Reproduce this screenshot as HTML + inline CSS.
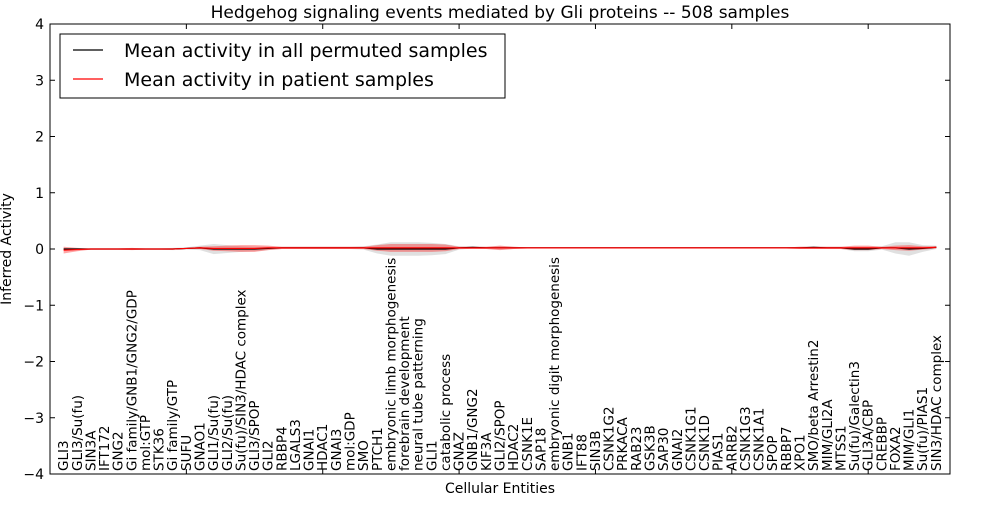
<!DOCTYPE html>
<html><head><meta charset="utf-8"><style>
body{margin:0;background:#fff;}
svg{font-family:"DejaVu Sans","Liberation Sans",sans-serif;}
</style></head><body>
<svg id="chart" width="1000" height="500" viewBox="0 0 1000 500">
<rect width="1000" height="500" fill="#fff"/>
<text x="500" y="18" text-anchor="middle" font-size="17">Hedgehog signaling events mediated by Gli proteins -- 508 samples</text>
<g id="bands"></g>
<g id="lines"></g>
<rect x="50" y="24" width="900" height="450" fill="none" stroke="#000" stroke-width="1"/>
<g id="yticks"></g>
<g id="xticks"></g>
<g id="xlabels"></g>
<text x="500" y="493" text-anchor="middle" font-size="14">Cellular Entities</text>
<text transform="translate(11,249) rotate(-90)" text-anchor="middle" font-size="14">Inferred Activity</text>
<g>
<rect x="60" y="34" width="445" height="64" fill="#fff" stroke="#000" stroke-width="1"/>
<line x1="73" y1="50" x2="103" y2="50" stroke="#000" stroke-width="1.2"/>
<text x="124" y="57" font-size="19">Mean activity in all permuted samples</text>
<line x1="73" y1="79" x2="103" y2="79" stroke="#f00" stroke-width="1.2"/>
<text x="124" y="86" font-size="19">Mean activity in patient samples</text>
</g>
</svg>
<script>
const categories = ["GLI3","GLI3/Su(fu)","SIN3A","IFT172","GNG2","Gi family/GNB1/GNG2/GDP","mol:GTP","STK36","Gi family/GTP","SUFU","GNAO1","GLI1/Su(fu)","GLI2/Su(fu)","Su(fu)/SIN3/HDAC complex","GLI3/SPOP","GLI2","RBBP4","LGALS3","GNAI1","HDAC1","GNAI3","mol:GDP","SMO","PTCH1","embryonic limb morphogenesis","forebrain development","neural tube patterning","GLI1","catabolic process","GNAZ","GNB1/GNG2","KIF3A","GLI2/SPOP","HDAC2","CSNK1E","SAP18","embryonic digit morphogenesis","GNB1","IFT88","SIN3B","CSNK1G2","PRKACA","RAB23","GSK3B","SAP30","GNAI2","CSNK1G1","CSNK1D","PIAS1","ARRB2","CSNK1G3","CSNK1A1","SPOP","RBBP7","XPO1","SMO/beta Arrestin2","MIM/GLI2A","MTSS1","Su(fu)/Galectin3","GLI3A/CBP","CREBBP","FOXA2","MIM/GLI1","Su(fu)/PIAS1","SIN3/HDAC complex"];
const permutedMean = [0,0,0,0,0,0,0,0,0,0.01,0.02,0,0,0,0,0.01,0.02,0.02,0.02,0.02,0.02,0.02,0.02,0,0,0,0,0,0,0.02,0.03,0.02,0.02,0.02,0.02,0.02,0.02,0.02,0.02,0.02,0.02,0.02,0.02,0.02,0.02,0.02,0.02,0.02,0.02,0.02,0.02,0.02,0.02,0.02,0.02,0.03,0.02,0.02,0,0,0.02,0.02,0,0.01,0.03];
const patientMean = [-0.02,-0.01,0,0,0,0,0,0,0,0.01,0.02,0.01,0.01,0.01,0.01,0.02,0.02,0.02,0.02,0.02,0.02,0.02,0.02,0.02,0.02,0.02,0.02,0.02,0.02,0.02,0.02,0.02,0.02,0.02,0.02,0.02,0.02,0.02,0.02,0.02,0.02,0.02,0.02,0.02,0.02,0.02,0.02,0.02,0.02,0.02,0.02,0.02,0.02,0.02,0.02,0.02,0.02,0.02,0.02,0.02,0.02,0.02,0.02,0.02,0.03];
const patientSpread = [0.06,0.03,0.01,0.01,0.01,0.02,0.01,0.01,0.01,0.01,0.02,0.04,0.05,0.06,0.06,0.04,0.02,0.02,0.02,0.02,0.02,0.02,0.02,0.05,0.07,0.07,0.07,0.07,0.06,0.02,0.02,0.02,0.04,0.02,0.01,0.01,0.01,0.01,0.01,0.01,0.01,0.01,0.01,0.01,0.01,0.01,0.01,0.01,0.01,0.01,0.01,0.01,0.01,0.01,0.02,0.02,0.02,0.02,0.04,0.04,0.02,0.04,0.05,0.03,0.02];
const permutedSpread = [0.01,0.01,0.01,0.01,0.01,0.01,0.01,0.01,0.02,0.02,0.04,0.09,0.07,0.05,0.04,0.03,0.02,0.02,0.02,0.02,0.02,0.02,0.03,0.08,0.12,0.12,0.12,0.11,0.09,0.03,0.02,0.02,0.03,0.02,0.01,0.01,0.01,0.01,0.01,0.01,0.01,0.01,0.01,0.01,0.01,0.01,0.01,0.01,0.01,0.01,0.01,0.01,0.01,0.01,0.02,0.02,0.02,0.02,0.04,0.04,0.03,0.1,0.12,0.06,0.03];
const yTicks = [4,3,2,1,0,-1,-2,-3,-4];
const xTicks = [0,10,20,30,40,50,60];
const NS="http://www.w3.org/2000/svg";
const X0=50,X1=950,Y0=24,Y1=474,XMAX=66,YMIN=-4,YMAX=4;
function xv(v){return X0+v/XMAX*(X1-X0);}
function xs(i){return xv(i+1);}
function ys(v){return Y0+(YMAX-v)/(YMAX-YMIN)*(Y1-Y0);}
function mk(t,a){const e=document.createElementNS(NS,t);for(const k in a)e.setAttribute(k,a[k]);return e;}
function band(mean,spread){let up=mean.map((m,i)=>xs(i)+","+ys(m+spread[i]));let dn=mean.map((m,i)=>xs(i)+","+ys(m-spread[i])).reverse();return up.concat(dn).join(" ");}
const bands=document.getElementById('bands');
const gb=mk('polygon',{points:band(permutedMean,permutedSpread),fill:'#000','fill-opacity':0.12});


bands.appendChild(gb);
const rb=mk('polygon',{points:band(patientMean,patientSpread),fill:'#f00','fill-opacity':0.35});


bands.appendChild(rb);
const lines=document.getElementById('lines');
const pl=mk('polyline',{points:permutedMean.map((m,i)=>xs(i)+","+ys(m)).join(" "),fill:'none',stroke:'#000','stroke-width':1.2});


lines.appendChild(pl);
const rl=mk('polyline',{points:patientMean.map((m,i)=>xs(i)+","+ys(m)).join(" "),fill:'none',stroke:'#f00','stroke-width':1.2});


lines.appendChild(rl);
const yt=document.getElementById('yticks');
yTicks.forEach(v=>{
 const y=ys(v);
 yt.appendChild(mk('line',{x1:X0,y1:y,x2:X0+5,y2:y,stroke:'#000'}));
 yt.appendChild(mk('line',{x1:X1,y1:y,x2:X1-5,y2:y,stroke:'#000'}));
 const t=mk('text',{x:X0-6,y:y+5,'text-anchor':'end','font-size':14});
 t.textContent=(v<0?'\u2212'+(-v):String(v));
 
 
 yt.appendChild(t);
});
const xt=document.getElementById('xticks');
xTicks.forEach(v=>{
 const x=xv(v);
 xt.appendChild(mk('line',{x1:x,y1:Y0,x2:x,y2:Y0+5,stroke:'#000'}));
 xt.appendChild(mk('line',{x1:x,y1:Y1,x2:x,y2:Y1-5,stroke:'#000'}));
});
const xl=document.getElementById('xlabels');
categories.forEach((c,i)=>{
 const x=xs(i);
 const t=mk('text',{transform:`translate(${x+4.5},471) rotate(-90)`,'font-size':13.5});
 t.textContent=c;
 
 
 xl.appendChild(t);
});
</script>
</body></html>
